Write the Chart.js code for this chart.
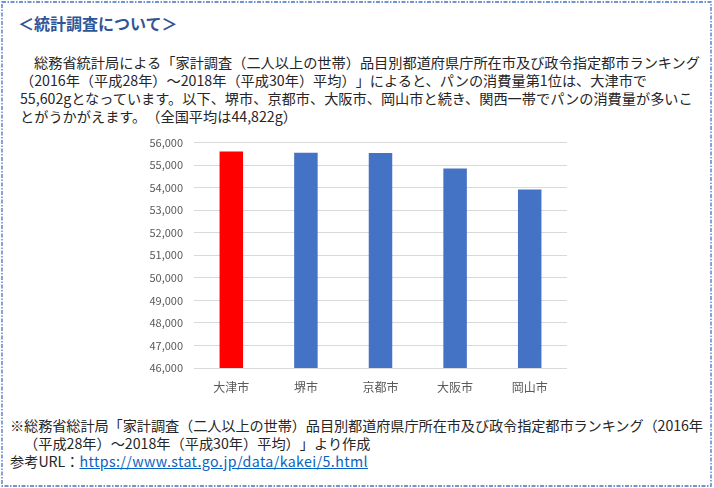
<!DOCTYPE html>
<html lang="ja">
<head>
<meta charset="utf-8">
<script src="https://cdn.jsdelivr.net/npm/chart.js@4.4.1/dist/chart.umd.min.js"></script>
<style>
  html, body { margin: 0; padding: 0; background: #fff; }
  body { width: 714px; height: 488px; position: relative; overflow: hidden;
         font-family: "Noto Sans CJK JP", "Noto Sans", sans-serif; color: #262626; }
  #frame { position: absolute; left: 0; top: 0; }
  .t { position: absolute; white-space: nowrap; font-size: 14.2px; line-height: 18px;
       text-spacing-trim: space-all; }
  #title { left: 18px; top: 14px; font-size: 16px; font-weight: bold; color: #2F5597; }
  a { color: #0563C1; text-decoration: underline; letter-spacing: 0.4px; }
  #wrap { position: absolute; left: 140px; top: 125px; width: 440px; height: 275px; }
</style>
</head>
<body>
<svg id="frame" width="714" height="488">
  <rect x="2" y="2" width="709" height="484" fill="none" stroke="#4472C4" stroke-width="1.3"
        stroke-dasharray="4 1.5 1.5 1.5"/>
</svg>
<div class="t" id="title">＜統計調査について＞</div>
<div class="t" style="left:34px;top:53px">総務省統計局による「家計調査（二人以上の世帯）品目別都道府県庁所在市及び政令指定都市ランキング</div>
<div class="t" style="left:20px;top:71px">（2016年（平成28年）～2018年（平成30年）平均）」によると、パンの消費量第1位は、大津市で</div>
<div class="t" style="left:20px;top:89px">55,602gとなっています。以下、堺市、京都市、大阪市、岡山市と続き、関西一帯でパンの消費量が多いこ</div>
<div class="t" style="left:20px;top:107px">とがうかがえます。（全国平均は44,822g）</div>
<div id="wrap"><canvas id="chart"></canvas></div>
<div class="t" style="left:10px;top:416px;letter-spacing:-0.1px">※総務省総計局「家計調査（二人以上の世帯）品目別都道府県庁所在市及び政令指定都市ランキング（2016年</div>
<div class="t" style="left:24px;top:434px">（平成28年）～2018年（平成30年）平均）」より作成</div>
<div class="t" style="left:10px;top:452px">参考URL：<a href="#">https://www.stat.go.jp/data/kakei/5.html</a></div>
<script>
// パンの消費量（g）2016〜2018年平均
const cities = ["大津市", "堺市", "京都市", "大阪市", "岡山市"];
const breadGrams = [55602, 55546, 55540, 54850, 53920];
const barColors = ["#FF0000", "#4472C4", "#4472C4", "#4472C4", "#4472C4"];
const yMin = 46000;
const yMax = 56000;
const yStep = 1000;

const ctx = document.getElementById("chart").getContext("2d");
new Chart(ctx, {
  type: "bar",
  data: {
    labels: cities,
    datasets: [
      {
        data: breadGrams,
        backgroundColor: barColors,
        barPercentage: 0.315,
        categoryPercentage: 1,
      },
    ],
  },
  options: {
    responsive: true,
    maintainAspectRatio: false,
    animation: false,
    layout: { padding: { top: 14, right: 13, left: 0, bottom: 0 } },
    plugins: {
      legend: { display: false },
      tooltip: { enabled: false },
    },
    scales: {
      x: {
        grid: { display: false },
        border: { display: false },
        ticks: {
          color: "#595959",
          padding: 4,
          font: { family: "Noto Sans CJK JP", size: 12 },
        },
        afterFit: (scale) => { scale.height = 32; },
      },
      y: {
        min: yMin,
        max: yMax,
        grid: { color: "#D9D9D9", drawTicks: false },
        border: { display: false },
        ticks: {
          stepSize: yStep,
          color: "#595959",
          padding: 11,
          font: { family: "Noto Sans CJK JP", size: 11 },
          callback: (v) => v.toLocaleString("en-US"),
        },
        afterFit: (scale) => { scale.width = 54; },
      },
    },
  },
});
</script>
</body>
</html>
